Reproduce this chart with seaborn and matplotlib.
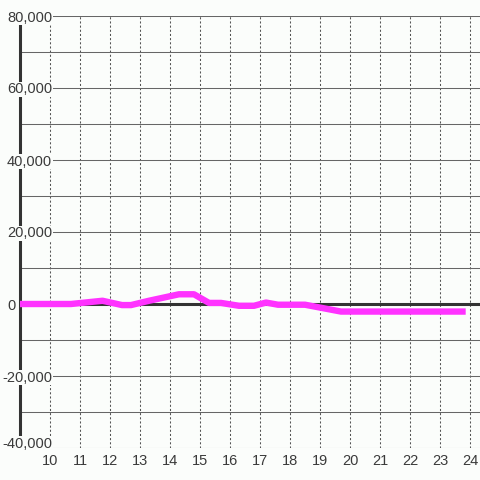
import pandas as pd
import matplotlib.pyplot as plt
import seaborn as sns
from matplotlib import transforms

# podaci ocitani sa slike (sat, vrijednost)
sati = [9.0, 10.7, 11.75, 12.4, 12.7, 13.3, 14.3, 14.8, 15.3, 15.7, 16.3, 16.8,
        17.2, 17.6, 18.5, 19.7, 23.75]
vrijednosti = [0, 0, 900, -300, -300, 900, 2700, 2700, 300, 300, -500, -500,
               400, -200, -200, -2100, -2100]
y_crte = list(range(-40000, 80001, 10000))
y_oznake = [-40000, -20000, 0, 20000, 40000, 60000, 80000]
x_oznake = list(range(10, 25))

sns.set_style('white')
plt.rcParams['font.family'] = ['Liberation Sans', 'DejaVu Sans']

pozadina = '#fbfdfb'
df = pd.DataFrame({'sat': sati, 'vrijednost': vrijednosti})

fig = plt.figure(figsize=(4.8, 4.8), dpi=100, facecolor=pozadina)
ax = fig.add_axes([20/480, 32/480, 460/480, 432/480], facecolor=pozadina)

sns.lineplot(x='sat', y='vrijednost', data=df, ax=ax, color='#ff33ff',
             linewidth=4.6, solid_capstyle='projecting', zorder=4)
ax.axhline(0, color='#333333', linewidth=2.2, zorder=2)

ax.set_xlim(9, 24 + 1/3)
ax.set_ylim(-40000, 80000)
ax.set_xticks(x_oznake)
ax.set_yticks(y_crte)
ax.set_yticklabels([])
ax.tick_params(axis='both', length=0)
ax.tick_params(axis='x', pad=4.5, labelsize=10.5, labelcolor='#3a3a3a')
ax.grid(axis='y', color='#666666', linewidth=0.75)
ax.grid(axis='x', color='#555555', linewidth=0.75, linestyle=(0, (2, 2)))
ax.set_axisbelow(True)
ax.set_xlabel('')
ax.set_ylabel('')

for s in ['top', 'right', 'bottom']:
    ax.spines[s].set_visible(False)
ax.spines['left'].set_color('#333333')
ax.spines['left'].set_linewidth(2.2)

trans = transforms.blended_transform_factory(fig.transFigure, ax.transData)
for v in y_oznake:
    x_pos = 16/480 if v == 0 else 52/480
    # najdonja oznaka je malo podignuta da ne dira oznake x osi
    tr = transforms.offset_copy(trans, fig=fig, y=6 if v == min(y_oznake) else 0,
                                units='dots')
    ax.text(x_pos, v, f'{v:,}', transform=tr, ha='right', va='center_baseline',
            fontsize=10.5, color='#3a3a3a', clip_on=False, zorder=5,
            bbox=dict(facecolor=pozadina, edgecolor='none', pad=0.4))

fig.savefig('out.png', dpi=100, facecolor=pozadina)
